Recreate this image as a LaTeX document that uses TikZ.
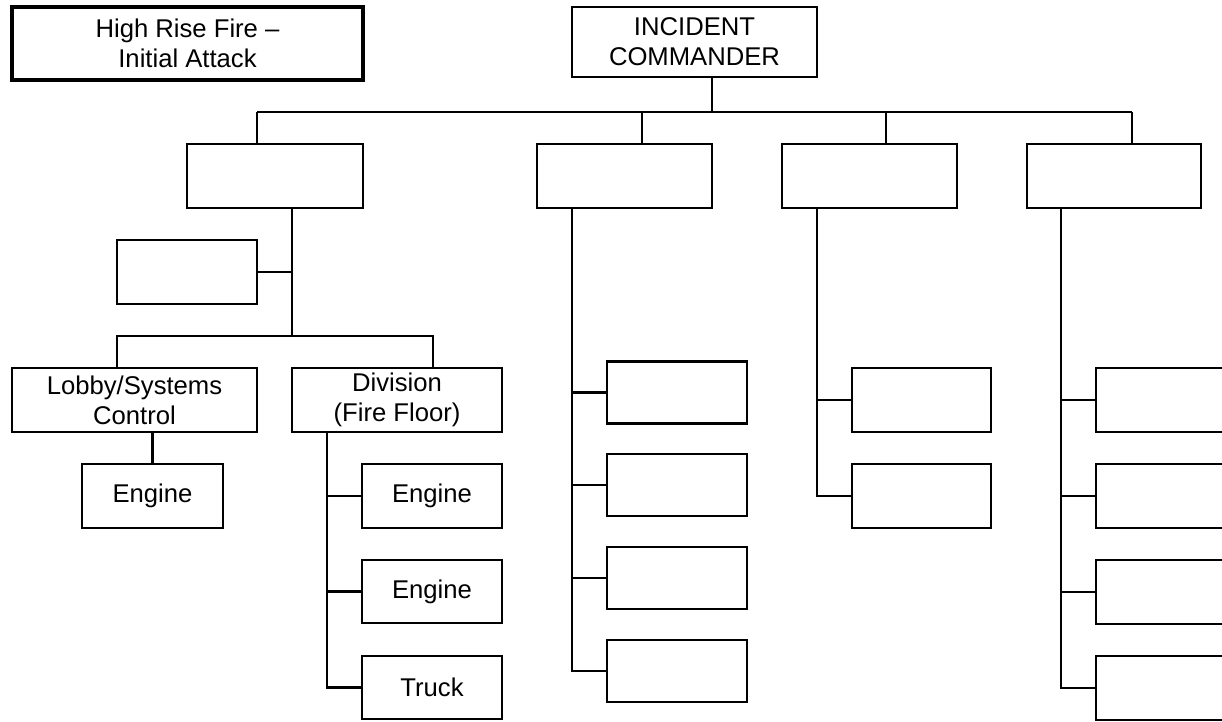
\documentclass[tikz,border=0pt]{standalone}
\usepackage{fontspec}
\setmainfont{Liberation Sans}
\begin{document}
\begin{tikzpicture}[x=0.02cm,y=-0.02cm,line width=1.3pt,
    box/.style 2 args={draw,minimum width=#1*0.02cm,minimum height=#2*0.02cm,inner sep=0pt,align=center,font=\fontsize{14.6}{17}\selectfont}]
    \useasboundingbox (0,0) rectangle (1222,721);
    \node[box={351}{73},line width=2.6pt] (title) at (187.5,43.5) {High Rise Fire –\\Initial Attack};
    \node[box={245}{70}] (ic) at (694.5,42) {INCIDENT\\COMMANDER};
    \node[box={176}{64}] (b1) at (275,176) {};
    \node[box={175}{64}] (b2) at (624.5,176) {};
    \node[box={175}{64}] (b3) at (869.5,176) {};
    \node[box={174}{64}] (b4) at (1114,176) {};
    \node[box={140}{64}] (aux) at (187,272) {};
    \node[box={245}{64}] (lobby) at (134.5,400) {Lobby/Systems\\Control};
    \node[box={210}{64}] (div) at (397,400) {Division\\(Fire Floor)};
    \node[box={141}{64}] (leng) at (152.5,496) {Engine};
    \node[box={140}{64}] (deng1) at (432,496) {Engine};
    \node[box={140}{63}] (deng2) at (432,591.5) {Engine};
    \node[box={140}{63}] (dtruck) at (432,687.5) {Truck};
    \node[box={140}{62}] (c2a) at (677,392.5) {};
    \node[box={140}{62}] (c2b) at (677,485) {};
    \node[box={140}{62}] (c2c) at (677,578) {};
    \node[box={140}{62}] (c2d) at (677,671) {};
    \node[box={139}{64}] (c3a) at (921.5,400) {};
    \node[box={139}{64}] (c3b) at (921.5,496) {};
    \node[box={140}{64}] (c4a) at (1166,400) {};
    \node[box={140}{64}] (c4b) at (1166,496) {};
    \node[box={140}{64}] (c4c) at (1166,592) {};
    \node[box={140}{64}] (c4d) at (1166,688) {};
    \coordinate (bus) at (712,112);
    \coordinate (j1) at (257,112);
    \coordinate (j2) at (642,112);
    \coordinate (j3) at (886,112);
    \coordinate (j4) at (1132,112);
    \draw (ic.south -| bus) -- (bus);
    \draw (j1) -- (j4);
    \draw (j1) -- (j1 |- b1.north);
    \draw (j2) -- (j2 |- b2.north);
    \draw (j3) -- (j3 |- b3.north);
    \draw (j4) -- (j4 |- b4.north);
    \coordinate (k1) at (292,336);
    \coordinate (k2) at (117,336);
    \coordinate (k3) at (433,336);
    \draw (k1 |- b1.south) -- (k1);
    \draw (aux.east) -- (aux.east -| k1);
    \draw (k2 |- lobby.north) -- (k2) -- (k3) -- (k3 |- div.north);
    \draw (leng.north) -- (leng.north |- lobby.south);
    \coordinate (d) at (327,687.5);
    \draw (d |- div.south) -- (d) -- (dtruck.west);
    \draw (deng1.west) -- (deng1.west -| d);
    \draw (deng2.west) -- (deng2.west -| d);
    \coordinate (c2) at (572,671);
    \draw (c2 |- b2.south) -- (c2) -- (c2d.west);
    \draw (c2a.west) -- (c2a.west -| c2);
    \draw (c2b.west) -- (c2b.west -| c2);
    \draw (c2c.west) -- (c2c.west -| c2);
    \coordinate (c3) at (817,496);
    \draw (c3 |- b3.south) -- (c3) -- (c3b.west);
    \draw (c3a.west) -- (c3a.west -| c3);
    \coordinate (c4) at (1061,688);
    \draw (c4 |- b4.south) -- (c4) -- (c4d.west);
    \draw (c4a.west) -- (c4a.west -| c4);
    \draw (c4b.west) -- (c4b.west -| c4);
    \draw (c4c.west) -- (c4c.west -| c4);
\end{tikzpicture}
\end{document}
